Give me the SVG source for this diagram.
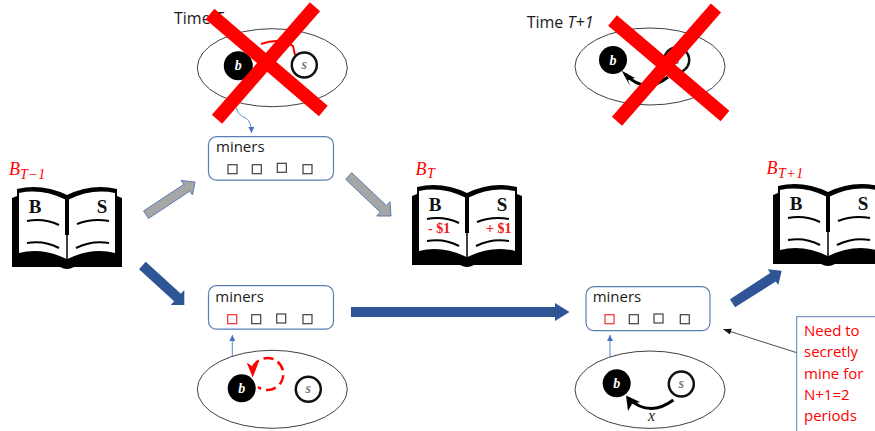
<svg xmlns="http://www.w3.org/2000/svg" xmlns:xlink="http://www.w3.org/1999/xlink" width="875" height="431" viewBox="0 0 875 431">
<style>
text{font-family:"Open Sans","Noto Sans","Liberation Sans",sans-serif}
.ell{fill:#fff;stroke:#404040;stroke-width:1}
.box{fill:#fff;stroke:#5b7fb5;stroke-width:1.2}
.lbl{font-size:15px;fill:#1a1a1a}
.time{font-size:16px;fill:#1a1a1a}
.sq{fill:#fff;stroke:#404040;stroke-width:1.2}
.sqr{fill:#fff;stroke:#f03030;stroke-width:1.2}
.grey{fill:#a6a6a6;stroke:#5b7fb5;stroke-width:1}
.blue{fill:#2f5597}
.thin{fill:none;stroke:#5b86c8;stroke-width:1}
.cross{fill:none;stroke:#ff0000;stroke-width:13.5}
.math{font-family:"Liberation Serif",serif;font-style:italic;fill:#ff0000}
.bb{fill:#000}
.bw{fill:#fff}
.s{fill:#fff;stroke:#111;stroke-width:2.5}
.nb{font-family:"Liberation Serif",serif;font-style:italic;font-weight:bold;font-size:14px;text-anchor:middle}
.pl{fill:none;stroke:#000;stroke-width:2}
.bk{font-family:"Liberation Serif",serif;font-weight:bold;font-size:19px;fill:#111;text-anchor:middle}
.mon{font-family:"Liberation Serif",serif;font-weight:bold;font-size:14px;fill:#ee2020}
.note{font-size:15px;fill:#ff0000}
</style>
<defs>
<g id="book">
<path class="bb" d="M0,12 L5,10 L5,3 Q30,-3 55,9 Q80,-3 105,3 V10 L110,12 V81 H62 Q55,85 48,81 H0 Z"/>
<path class="bw" d="M7,7 Q30,2 54.500,14 V73 Q30,61 7,67 Z"/>
<path class="bw" d="M55.500,14 Q80,2 103,7 V67 Q80,61 55.500,73 Z"/>
<rect class="bb" x="53" y="10" width="4" height="39"/>
<path d="M55,49 V74" stroke="#000" stroke-width="1" fill="none"/>
<path class="pl" d="M15,35 Q32,32 47,39"/>
<path class="pl" d="M15,57 Q32,54 47,62"/>
<path class="pl" d="M65,38 Q80,32 97,35"/>
<path class="pl" d="M64,62 Q80,54 97,57"/>
<text class="bk" x="23" y="27">B</text>
<text class="bk" x="90" y="27">S</text>
</g>
<marker id="ab" markerWidth="7" markerHeight="7" refX="6" refY="3" orient="auto" markerUnits="userSpaceOnUse"><path d="M0,0 L6,3 L0,6 Z" fill="#4472c4"/></marker>
<marker id="ak" markerWidth="9" markerHeight="7" refX="8" refY="3" orient="auto" markerUnits="userSpaceOnUse"><path d="M0,0 L8,3 L0,6 Z" fill="#111"/></marker>
</defs>

<g id="book-t-1">
<use xlink:href="#book" href="#book" x="12" y="186"/>
<text class="math" x="9" y="175" font-size="18">B</text><text class="math" x="20" y="179" font-size="14" letter-spacing="0.500">T−1</text>
</g>
<g id="book-t">
<use xlink:href="#book" href="#book" x="412" y="184"/>
<text class="mon" x="428" y="233">- $1</text><text class="mon" x="486" y="233">+ $1</text>
<text class="math" x="415.500" y="175" font-size="18">B</text><text class="math" x="427" y="178" font-size="14">T</text>
</g>
<g id="book-t1">
<use xlink:href="#book" href="#book" x="773" y="183"/>
<text class="math" x="766.500" y="174" font-size="18">B</text><text class="math" x="778" y="177.500" font-size="14" letter-spacing="0.500">T+1</text>
</g>

<g id="connectors">
<polygon class="grey" points="143.500,211 183.900,184.300 181,180.500 195,182 192.500,195 189.600,191.200 148.500,218.500"/>
<polygon class="grey" points="345.700,179.300 351.700,172.700 386.400,205.600 390,201.700 391,216 376.700,216 380.200,212.200"/>
<polygon class="blue" points="139,269.300 145.700,261.700 180.900,293.800 184.300,290 184.300,305 170.700,305 174.100,301.200"/>
<polygon class="blue" points="351,307 555,307 555,303 569.500,312 555,321 555,317 351,317"/>
<polygon class="blue" points="730,299.300 770.200,273 767.700,269.300 781.700,270.700 778.300,285 775.800,281.400 735,307.300"/>
<path class="thin" d="M236.500,108 C240,122 251,112 251.500,133" marker-end="url(#ab)"/>
<path class="thin" d="M232.300,374 V335" marker-end="url(#ab)"/>
<path class="thin" d="M610,372 V335" marker-end="url(#ab)"/>
<path d="M796.700,352.700 L723.300,329.300" fill="none" stroke="#222" stroke-width="0.8" marker-end="url(#ak)"/>
</g>

<g id="miners-top">
<rect class="box" x="208.500" y="136.700" width="125" height="43.500" rx="8"/>
<text class="lbl" x="216" y="151.700">miners</text>
<rect class="sq" x="228" y="164.700" width="9" height="9"/><rect class="sq" x="252.300" y="164.700" width="9" height="9"/><rect class="sq" x="277.300" y="163.300" width="9" height="9"/><rect class="sq" x="303" y="164.700" width="9" height="9"/>
</g>
<g id="miners-bottom">
<rect class="box" x="208.500" y="285.700" width="125" height="43.500" rx="8"/>
<text class="lbl" x="215.300" y="301.700">miners</text>
<rect class="sqr" x="227.700" y="314.700" width="9" height="9"/><rect class="sq" x="251.700" y="314.700" width="9" height="9"/><rect class="sq" x="276.700" y="314" width="9" height="9"/><rect class="sq" x="303" y="314.700" width="9" height="9"/>
</g>
<g id="miners-right">
<rect class="box" x="586" y="286.700" width="124" height="44" rx="8"/>
<text class="lbl" x="592.700" y="301.700">miners</text>
<rect class="sqr" x="605" y="314.700" width="9" height="9"/><rect class="sq" x="629.300" y="314.700" width="9" height="9"/><rect class="sq" x="654" y="314" width="9" height="9"/><rect class="sq" x="680.300" y="314.700" width="9" height="9"/>
</g>

<g id="chain-bottom-left">
<ellipse class="ell" cx="272.300" cy="389.300" rx="75" ry="39"/>
<path d="M252.500,368 A16,16 0 1 1 258,387" fill="none" stroke="#ff0000" stroke-width="2.500" stroke-dasharray="10 5"/>
<path d="M252.700,377.500 L246.700,362.500 L252.500,366.500 L258.500,362.500 Z" fill="#ff0000"/>
<circle cx="241.700" cy="388.300" r="14" fill="#000"/>
<text class="nb" x="241.700" y="392.500" fill="#fff">b</text>
<circle class="s" cx="308.300" cy="389.300" r="12.500"/>
<text class="nb" x="308.300" y="393" fill="#777">s</text>
</g>
<g id="chain-bottom-right">
<ellipse class="ell" cx="650" cy="389.700" rx="75" ry="38.700"/>
<circle cx="616.700" cy="383.300" r="14" fill="#000"/>
<text class="nb" x="616.700" y="387.500" fill="#fff">b</text>
<circle class="s" cx="681.300" cy="384" r="12.500"/>
<text class="nb" x="681.300" y="388" fill="#777">s</text>
<path d="M673.300,400 Q649,418 628,398" fill="none" stroke="#000" stroke-width="3"/>
<path d="M626,395.500 L640,402 L632,404 L628,411 Z" fill="#000"/>
<text class="math" x="648" y="421" font-size="16" style="fill:#222">x</text>
</g>

<g id="time-t">
<text class="time" x="174" y="23.500">Time <tspan font-style="italic">T</tspan></text>
<ellipse class="ell" cx="272.300" cy="67.700" rx="75" ry="39"/>
<path d="M261,44 Q280,37 293,46 L295,55" fill="none" stroke="#ff0000" stroke-width="2"/>
<circle cx="238.300" cy="65.700" r="14.500" fill="#000"/>
<text class="nb" x="238.300" y="70" fill="#fff">b</text>
<circle class="s" cx="304.300" cy="65" r="12.500"/>
<text class="nb" x="304.300" y="69" fill="#777">s</text>
<path class="cross" d="M210,14 L323.300,111 M315,6.700 L217,119.300"/>
</g>
<g id="time-t1">
<text class="time" x="526.700" y="28">Time <tspan font-style="italic">T+1</tspan></text>
<ellipse class="ell" cx="650" cy="66.500" rx="75" ry="38.500"/>
<circle cx="613" cy="60" r="14" fill="#000"/>
<text class="nb" x="613" y="64.500" fill="#fff">b</text>
<circle class="s" cx="676.700" cy="60" r="12.500"/>
<text class="nb" x="676.700" y="64" fill="#777">s</text>
<path d="M668,77 Q645,95 625,74" fill="none" stroke="#000" stroke-width="3"/>
<path d="M621.700,70.700 L635,78 L628,80 L630,86 Z" fill="#000"/>
<path class="cross" d="M612.500,20.500 L725,116 M716,8 L617,121.300"/>
</g>

<g id="note">
<rect x="796.700" y="316.700" width="90" height="130" fill="#fff" stroke="#5b7fb5" stroke-width="1"/>
<text class="note" x="804" y="335.700">Need to</text>
<text class="note" x="804" y="357.300">secretly</text>
<text class="note" x="804" y="378.700">mine for</text>
<text class="note" x="804" y="400">N+1=2</text>
<text class="note" x="804" y="421">periods</text>
</g>
</svg>
